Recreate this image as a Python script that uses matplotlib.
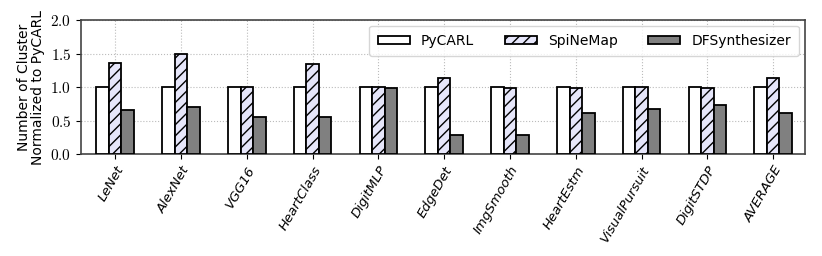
import matplotlib.pyplot as plt
import numpy as np

plt.rcParams['mathtext.fontset'] = 'cm'
plt.rcParams['hatch.linewidth'] = 1.0

apps = ['LeNet', 'AlexNet', 'VGG16', 'HeartClass', 'DigitMLP', 'EdgeDet',
        'ImgSmooth', 'HeartEstm', 'VisualPursuit', 'DigitSTDP', 'AVERAGE']
pycarl = [1.0, 1.0, 1.0, 1.0, 1.0, 1.0, 1.0, 1.0, 1.0, 1.0, 1.0]
spinemap = [1.36, 1.5, 1.0, 1.35, 1.0, 1.14, 0.99, 0.99, 1.0, 0.99, 1.13]
dfsynth = [0.66, 0.7, 0.56, 0.56, 0.98, 0.29, 0.28, 0.62, 0.68, 0.73, 0.61]

x = np.arange(len(apps))
w = 0.19

fig, ax = plt.subplots(figsize=(8.22, 2.56), dpi=100)
fig.subplots_adjust(left=0.0985, right=0.979, top=0.922, bottom=0.398)

ax.bar(x - w, pycarl, w, color='white', edgecolor='black', linewidth=1.3, label='PyCARL', zorder=3)
ax.bar(x, spinemap, w, color='#e6e6fa', edgecolor='black', linewidth=1.3, hatch='///', label='SpiNeMap', zorder=3)
ax.bar(x + w, dfsynth, w, color='#808080', edgecolor='black', linewidth=1.3, label='DFSynthesizer', zorder=3)

ax.set_xlim(-0.52, 10.48)
ax.set_ylim(0, 2.0)
ax.set_yticks([0, 0.5, 1.0, 1.5, 2.0])
ax.set_yticklabels(['$%.1f$' % v for v in [0, 0.5, 1.0, 1.5, 2.0]], fontsize=11)
ax.set_xticks(x)
ax.set_xticklabels(apps, rotation=60, ha='right', rotation_mode='anchor', fontsize=9.5, style='italic')
ax.set_ylabel('Number of Cluster\nNormalized to PyCARL', fontsize=10, linespacing=1.0)
ax.grid(True, linestyle=':', color='#bbbbbb', linewidth=0.8, zorder=0)
for s in ax.spines.values():
    s.set_color('#444444')
    s.set_linewidth(1.2)

ax.legend(loc='upper right', ncol=3, fontsize=10, handlelength=2.3, handleheight=0.6,
          columnspacing=2.2, borderpad=0.6, fancybox=True, framealpha=0.8, borderaxespad=0.4)

plt.savefig('out.png')
